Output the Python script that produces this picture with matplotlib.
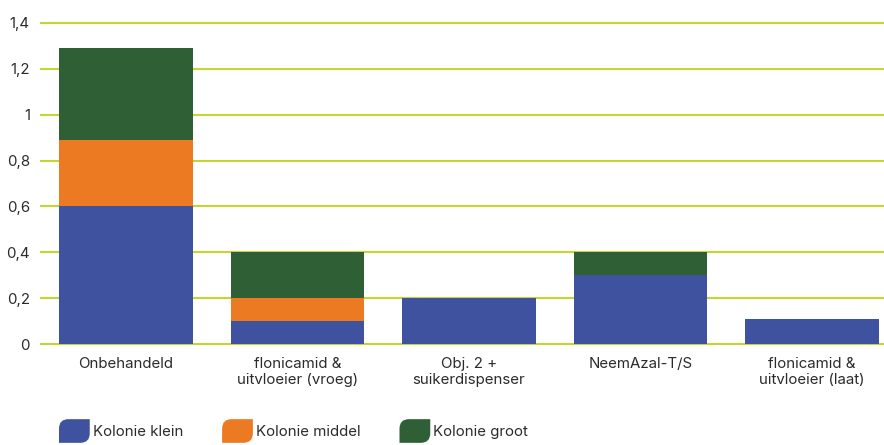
import numpy as np
import matplotlib
matplotlib.use('Agg')
import matplotlib.pyplot as plt
from matplotlib.path import Path
from matplotlib.patches import PathPatch, Patch
from matplotlib.legend_handler import HandlerBase

# gegevens
categorieen = ['Onbehandeld', 'flonicamid &\nuitvloeier (vroeg)', 'Obj. 2 +\nsuikerdispenser',
               'NeemAzal-T/S', 'flonicamid &\nuitvloeier (laat)']
kolonie_klein = [0.6, 0.1, 0.2, 0.3, 0.11]
kolonie_middel = [0.29, 0.1, 0.0, 0.0, 0.0]
kolonie_groot = [0.4, 0.2, 0.0, 0.1, 0.0]
reeksen = ['Kolonie klein', 'Kolonie middel', 'Kolonie groot']
y_ticks = [0, 0.2, 0.4, 0.6, 0.8, 1.0, 1.2, 1.4]
y_labels = ['0', '0,2', '0,4', '0,6', '0,8', '1', '1,2', '1,4']

kleuren = ['#3F529F', '#EC7A22', '#2F5F35']
tekstkleur = '#2B2B2B'
plt.rcParams['font.family'] = ['Inter', 'DejaVu Sans']


# blad-vormige legenda markers
class BladHandler(HandlerBase):
    def create_artists(self, legend, orig_handle, xdescent, ydescent,
                       width, height, fontsize, trans):
        x0, y0 = -xdescent, -ydescent
        w, h = width, height
        r = min(w, h) * 0.4
        verts = [(x0, y0), (x0 + w - r, y0), (x0 + w, y0), (x0 + w, y0 + r),
                 (x0 + w, y0 + h), (x0 + r, y0 + h), (x0, y0 + h), (x0, y0 + h - r),
                 (x0, y0)]
        codes = [Path.MOVETO, Path.LINETO, Path.CURVE3, Path.CURVE3,
                 Path.LINETO, Path.LINETO, Path.CURVE3, Path.CURVE3,
                 Path.CLOSEPOLY]
        p = PathPatch(Path(verts, codes), facecolor=orig_handle.get_facecolor(),
                      edgecolor='none', transform=trans)
        return [p]


fig = plt.figure(figsize=(8.84, 4.45), dpi=100)
ax = fig.add_axes([41 / 884, 100.7 / 445, 1 - 41 / 884, 321.6 / 445])

x = np.arange(len(categorieen))
breedte = 0.78
onder = np.zeros(len(categorieen))
for waarden, kleur, naam in zip([kolonie_klein, kolonie_middel, kolonie_groot], kleuren, reeksen):
    ax.bar(x, waarden, breedte, bottom=onder, color=kleur, label=naam, zorder=3)
    onder = onder + np.array(waarden)

ax.set_xlim(-0.496, 4.42)
ax.set_ylim(0, 1.4)
ax.set_yticks(y_ticks)
ax.set_yticklabels(y_labels)
ax.set_xticks(x)
ax.set_xticklabels(categorieen)
ax.tick_params(axis='both', length=0, labelsize=10.8, labelcolor=tekstkleur)
ax.tick_params(axis='y', pad=8)
ax.tick_params(axis='x', pad=9)
ax.grid(axis='y', color='#C5D62F', linewidth=1.5, zorder=0)
ax.grid(axis='x', visible=False)
for s in ax.spines.values():
    s.set_visible(False)
for gl in ax.get_ygridlines():
    gl.set_clip_on(False)

handles = [Patch(facecolor=k) for k in kleuren]
leg = fig.legend(handles, reeksen, loc='center left',
                 bbox_to_anchor=(59 / 884, 1 - 431 / 445), ncol=3, frameon=False,
                 handler_map={Patch: BladHandler()}, fontsize=10.8,
                 handlelength=2.05, handleheight=2.05, handletextpad=0.2,
                 columnspacing=2.6, borderpad=0, borderaxespad=0)
for t in leg.get_texts():
    t.set_color(tekstkleur)

fig.savefig('out.png', dpi=100)
